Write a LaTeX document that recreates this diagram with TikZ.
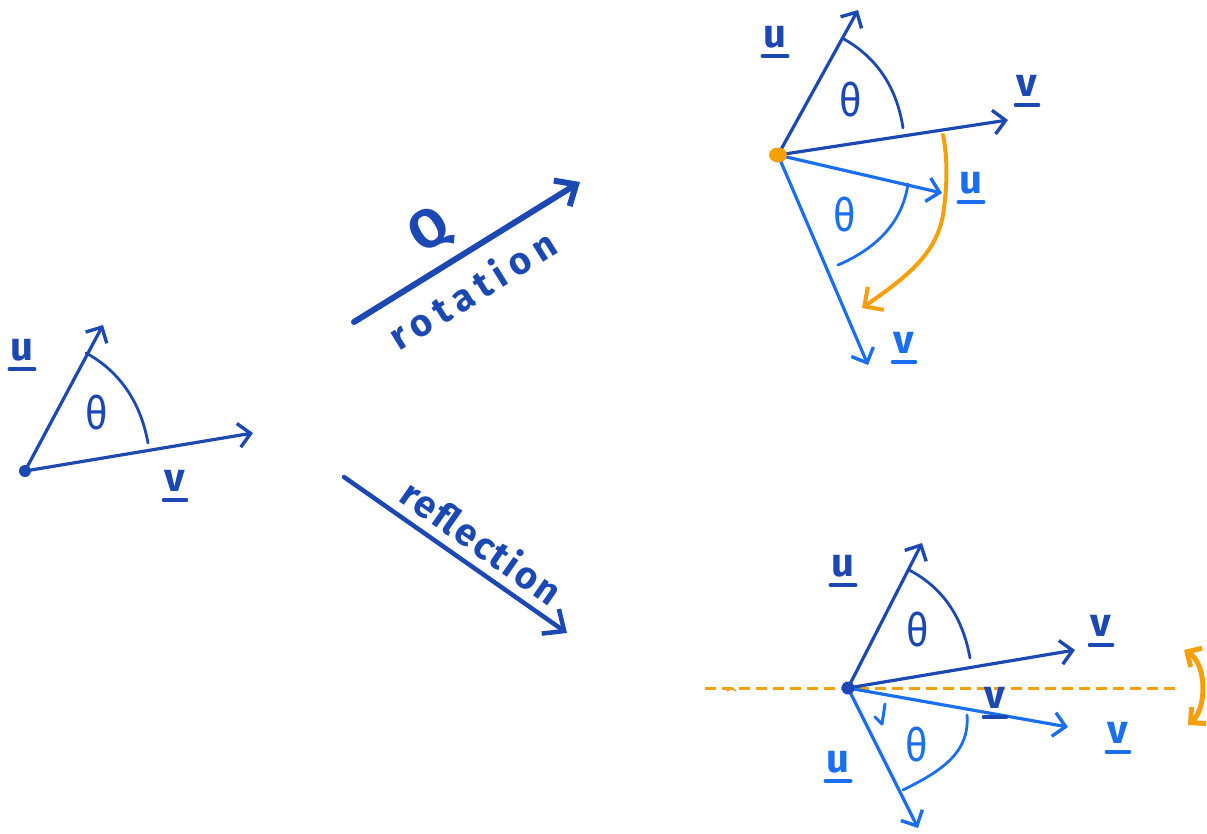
\documentclass[tikz,border=0pt]{standalone}
\usepackage{fontspec}
\setmainfont{Fira Sans}
\usetikzlibrary{arrows.meta}
\definecolor{dblue}{HTML}{1B48B2}
\definecolor{lblue}{HTML}{1A6EF0}
\definecolor{orng}{HTML}{F5A00A}
\tikzset{
  vec/.style={line width=3.2pt, line cap=round, -{Straight Barb[length=12pt,width=24pt,line width=3.4pt]}},
  bigarrow/.style={dblue, line cap=round, -{Straight Barb[length=17pt,width=30pt]}},
  anglearc/.style={line width=2.8pt, line cap=round},
  lab/.style={inner sep=0pt, font=\fontsize{40}{44}\selectfont\bfseries},
  theta/.style={inner sep=0pt, font=\fontsize{46}{50}\selectfont, xscale=0.85},
  handtxt/.style={inner sep=0pt, dblue, font=\fontsize{38}{42}\selectfont\bfseries},
  ul/.style={line width=3.6pt, line cap=round},
}
\newcommand\ulab[4]{%
  \node[lab,text=#4] (#1) at (#2) {#3};
  \draw[ul,#4] ([xshift=-1pt,yshift=-8pt]#1.south west) -- ([xshift=1pt,yshift=-8pt]#1.south east);}
\begin{document}
\begin{tikzpicture}[x=1pt,y=-1pt]
\useasboundingbox (0,0) rectangle (1207,833);

% ---------- left figure ----------
\coordinate (O1) at (25,471);
\coordinate (U1) at (103,325);
\coordinate (V1) at (253,433);
\fill[dblue] (O1) circle (6);
\draw[vec,dblue] (O1) -- (U1);
\draw[vec,dblue] (O1) -- (V1);
\draw[anglearc,dblue] (86,353) .. controls (121,372) and (141,404) .. (148,443);
\node[theta,text=dblue] (t1) at (97,413) {θ};
\ulab{u1}{22,350}{u}{dblue}
\ulab{v1}{175,481}{v}{dblue}

% ---------- rotation arrow ----------
\coordinate (RA) at (354,322);
\coordinate (RB) at (580,182);
\draw[bigarrow,line width=6pt] (RA) -- (RB);
\node[handtxt,rotate=31.8,font=\fontsize{54}{58}\selectfont\bfseries] (Q) at (430,232) {Q};
\node[handtxt,rotate=31.8] (rot) at (472,289) {\addfontfeature{LetterSpace=18}rotation};

% ---------- reflection arrow ----------
\coordinate (FA) at (344,477);
\coordinate (FB) at (567,633);
\draw[bigarrow,line width=4.5pt] (FA) -- (FB);
\node[handtxt,rotate=-35] (refl) at (482,541) {\addfontfeature{LetterSpace=6}reflection};

% ---------- top right: rotation ----------
\coordinate (O2) at (778,155);
\coordinate (U2) at (858,10);
\coordinate (V2) at (1008,120);
\coordinate (U2r) at (942,193);
\coordinate (V2r) at (868,365);
\draw[vec,dblue] (O2) -- (U2);
\draw[vec,dblue] (O2) -- (V2);
\draw[vec,lblue] (O2) -- (U2r);
\draw[vec,lblue] (O2) -- (V2r);
\fill[orng] (O2) ellipse (9 and 7.5);
\draw[anglearc,dblue] (842,38) .. controls (877,57) and (897,88) .. (903,128);
\draw[anglearc,lblue] (908,184) .. controls (902,224) and (875,249) .. (838,265);
\draw[orng,line width=4pt,line cap=round,-{Straight Barb[length=14pt,width=28pt]}]
  (943,135) .. controls (949,165) and (946,195) .. (943,215)
  .. controls (936,255) and (905,278) .. (862,308);
\node[theta,text=dblue] (t2) at (851,100) {θ};
\node[theta,text=lblue] (t3) at (845,215) {θ};
\ulab{u2}{775,37}{u}{dblue}
\ulab{v2}{1027,86}{v}{dblue}
\ulab{u3}{971,183}{u}{lblue}
\ulab{v3}{904,343}{v}{lblue}

% ---------- bottom right: reflection ----------
\coordinate (O3) at (848,688);
\coordinate (U4) at (922,543);
\coordinate (V4) at (1075,650);
\coordinate (U4r) at (918,828);
\coordinate (V4r) at (1068,727);
\coordinate (ML) at (705,688);
\coordinate (MR) at (1175,688);
\draw[orng,line width=3pt,dash pattern=on 11pt off 6pt] (ML) -- (MR);
\draw[vec,dblue] (O3) -- (U4);
\draw[vec,dblue] (O3) -- (V4);
\draw[vec,lblue] (O3) -- (V4r);
\draw[vec,lblue] (O3) -- (U4r);
\fill[dblue] (O3) circle (6.5);
\draw[anglearc,dblue] (909,570) .. controls (944,588) and (963,619) .. (970,658);
\draw[anglearc,lblue] (967,715) .. controls (970,754) and (939,772) .. (903,790);
\draw[lblue,line width=3pt,line cap=round,line join=round] (875,717) -- (882,724) -- (885,704);
\draw[orng,line width=1.4pt] (727,691) -- (732,688) -- (736,691);
\draw[orng,line width=5pt,line cap=round,{Straight Barb[length=11pt,width=22pt]}-{Straight Barb[length=11pt,width=22pt]}]
  (1184,650) .. controls (1207,664) and (1207,708) .. (1188,725);
\node[theta,text=dblue] (t4) at (918,630) {θ};
\node[theta,text=lblue] (t5) at (917,745) {θ};
\ulab{u4}{843,566}{u}{dblue}
\ulab{v4}{1101,626}{v}{dblue}
\ulab{v5}{995,698}{v}{dblue}
\ulab{u5}{838,762}{u}{lblue}
\ulab{v6}{1118,733}{v}{lblue}
\end{tikzpicture}
\end{document}
